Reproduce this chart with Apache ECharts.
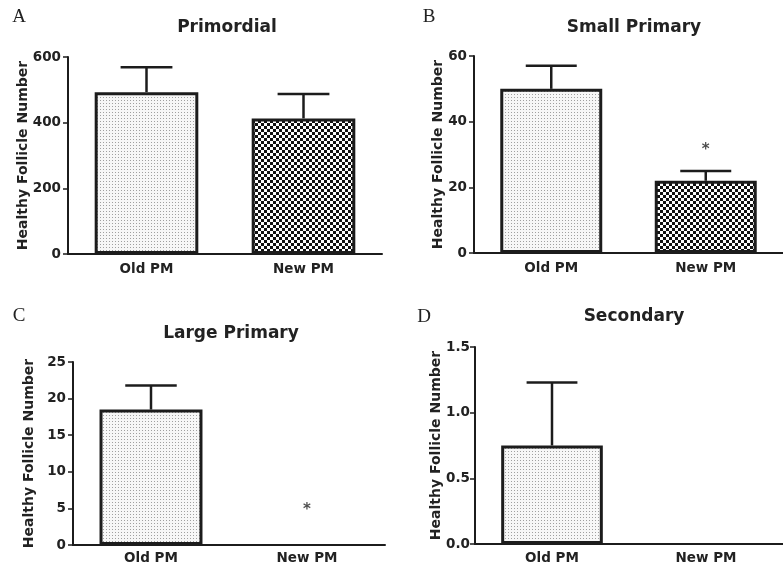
<!DOCTYPE html>
<html>
<head>
<meta charset="utf-8">
<script src="https://cdn.jsdelivr.net/npm/echarts@6/dist/echarts.min.js"></script>
<style>
html,body{margin:0;padding:0;background:#fff;}
#chart{width:783px;height:570px;}
</style>
</head>
<body>
<div id="chart"></div>
<script>
// ---- data ----
const categories = ['Old PM', 'New PM'];

const primordialMeans = [493, 413];
const primordialSEM = [76, 74];
const primordialTicks = [0, 200, 400, 600];

const smallPrimaryMeans = [50, 22];
const smallPrimarySEM = [7, 3];
const smallPrimaryTicks = [0, 20, 40, 60];
const smallPrimaryStars = [null, 32];

const largePrimaryMeans = [18.5, 0];
const largePrimarySEM = [3.3, 0];
const largePrimaryTicks = [0, 5, 10, 15, 20, 25];
const largePrimaryStars = [null, 5];

const secondaryMeans = [0.75, 0];
const secondarySEM = [0.48, 0];
const secondaryTicks = [0, 0.5, 1.0, 1.5];

const panelTitles = ['Primordial', 'Small Primary', 'Large Primary', 'Secondary'];
const panelLetters = ['A', 'B', 'C', 'D'];
const yAxisName = 'Healthy Follicle Number';

// ---- patterns ----
function dotPattern() {
  const c = document.createElement('canvas');
  c.width = 3; c.height = 3;
  const g = c.getContext('2d');
  g.fillStyle = '#f7f7f7'; g.fillRect(0, 0, 3, 3);
  g.fillStyle = '#a0a0a0'; g.fillRect(1, 1, 1, 1);
  return c;
}
function checkerPattern() {
  const c = document.createElement('canvas');
  c.width = 6; c.height = 6;
  const g = c.getContext('2d');
  g.fillStyle = '#ffffff'; g.fillRect(0, 0, 6, 6);
  g.fillStyle = '#111111';
  g.fillRect(0, 0, 3, 3); g.fillRect(3, 3, 3, 3);
  return c;
}
const fills = [
  { image: dotPattern(), repeat: 'repeat' },
  { image: checkerPattern(), repeat: 'repeat' }
];

const INK = '#1c1c1c';
const FONT = 'DejaVu Sans';

const grids = [
  { left: 68, top: 57, width: 314, height: 197 },
  { left: 474, top: 56, width: 322, height: 197 },
  { left: 73, top: 362, width: 312, height: 183 },
  { left: 475, top: 347, width: 322, height: 197 }
];
const nameGaps = [38, 29, 37, 32];
const labelMargins = [8, 8, 6, 7];
const yLabelMargins = [7, 7, 7, 5];

const panels = [
  { means: primordialMeans, sem: primordialSEM, ticks: primordialTicks, stars: null, dec: 0 },
  { means: smallPrimaryMeans, sem: smallPrimarySEM, ticks: smallPrimaryTicks, stars: smallPrimaryStars, dec: 0 },
  { means: largePrimaryMeans, sem: largePrimarySEM, ticks: largePrimaryTicks, stars: largePrimaryStars, dec: 0 },
  { means: secondaryMeans, sem: secondarySEM, ticks: secondaryTicks, stars: null, dec: 1 }
];

const xAxes = [], yAxes = [], series = [];
panels.forEach((p, i) => {
  xAxes.push({
    type: 'category', gridIndex: i, data: categories,
    axisLine: { lineStyle: { color: INK, width: 2 } },
    axisTick: { alignWithLabel: true, length: 5, lineStyle: { color: INK, width: 1.5 } },
    axisLabel: { color: '#222', fontFamily: FONT, fontWeight: 'bold', fontSize: 13.5, margin: labelMargins[i] },
    splitLine: { show: false }
  });
  const t = p.ticks;
  yAxes.push({
    type: 'value', gridIndex: i,
    min: t[0], max: t[t.length - 1], interval: t[1] - t[0],
    name: yAxisName, nameLocation: 'middle', nameGap: nameGaps[i], nameMoveOverlap: false,
    nameTextStyle: { color: '#222', fontFamily: FONT, fontWeight: 'bold', fontSize: 14 },
    axisLine: { show: true, lineStyle: { color: INK, width: 2 } },
    axisTick: { show: true, length: 5, lineStyle: { color: INK, width: 1.5 } },
    axisLabel: { color: '#222', fontFamily: FONT, fontWeight: 'bold', fontSize: 13.5, margin: yLabelMargins[i],
      formatter: v => v.toFixed(p.dec) },
    splitLine: { show: false }
  });
  series.push({
    type: 'bar', xAxisIndex: i, yAxisIndex: i, barCategoryGap: '34%', z: 3,
    data: p.means.map((v, k) => ({
      value: v,
      itemStyle: { color: fills[k], borderColor: INK, borderWidth: v === 0 ? 0 : 3 }
    }))
  });
  series.push({
    type: 'custom', xAxisIndex: i, yAxisIndex: i, z: 2,
    data: p.means.map((v, k) => [k, v, p.sem[k]]),
    encode: { x: 0, y: 1 },
    renderItem: (params, api) => {
      const x = api.value(0), m = api.value(1), e = api.value(2);
      if (!e) return null;
      const base = api.coord([x, m]);
      const top = api.coord([x, m + e]);
      const half = api.size([1, 0])[0] * 0.66 / 4;
      const st = { stroke: INK, lineWidth: 2.5 };
      return {
        type: 'group', children: [
          { type: 'line', shape: { x1: base[0], y1: base[1], x2: top[0], y2: top[1] }, style: st },
          { type: 'line', shape: { x1: top[0] - half, y1: top[1], x2: top[0] + half, y2: top[1] }, style: st }
        ]
      };
    }
  });
  if (p.stars) {
    series.push({
      type: 'scatter', xAxisIndex: i, yAxisIndex: i, symbolSize: 0, z: 4,
      data: p.stars.map((v, k) => v == null ? null : [k, v]).filter(d => d),
      label: { show: true, formatter: '*', position: 'inside', offset: [0, 2],
        color: '#222', fontFamily: FONT, fontWeight: 'bold', fontSize: 15 }
    });
  }
});

const titlePos = [[227, 28], [634, 28], [231, 334], [634, 317]];
const letterPos = [[19, 17], [429, 17], [19, 316], [424, 317]];
const graphics = [];
panelTitles.forEach((t, i) => {
  graphics.push({ type: 'text', x: titlePos[i][0], y: titlePos[i][1],
    style: { text: t, fill: '#222', font: 'bold 17px "DejaVu Sans"', align: 'center', verticalAlign: 'middle' } });
  graphics.push({ type: 'text', x: letterPos[i][0], y: letterPos[i][1],
    style: { text: panelLetters[i], fill: '#222', font: '19px "Liberation Serif"', align: 'center', verticalAlign: 'middle' } });
});

const chart = echarts.init(document.getElementById('chart'));
chart.setOption({
  backgroundColor: '#ffffff',
  animation: false,
  grid: grids,
  xAxis: xAxes,
  yAxis: yAxes,
  series: series,
  graphic: graphics
});
</script>
</body>
</html>
